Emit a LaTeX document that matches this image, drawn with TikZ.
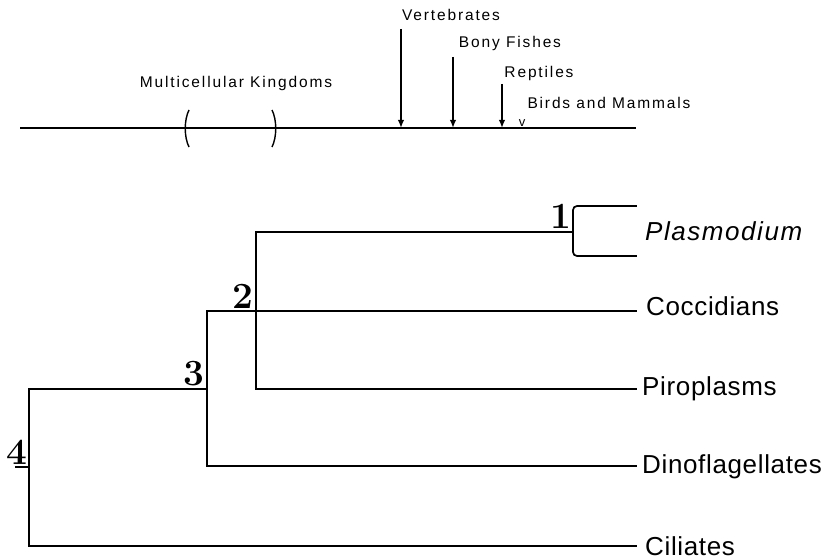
\documentclass[tikz,border=0pt]{standalone}
\usepackage{fontspec}
\usetikzlibrary{arrows.meta}
\newfontfamily\smallsans[LetterSpace=12]{Liberation Sans}
\newfontfamily\bigsans[LetterSpace=2.5]{Liberation Sans}
\newfontfamily\bigsansit[LetterSpace=6]{Liberation Sans Italic}
\begin{document}
\begin{tikzpicture}[x=1pt,y=-1pt,
  branch/.style={line width=1.7pt, line cap=rect},
  axis/.style={line width=1.8pt},
  pointer/.style={line width=1.6pt, -{Latex[length=8pt,width=6.5pt]}},
  toplabel/.style={inner sep=0pt, font=\smallsans\fontsize{15.5}{17}\selectfont},
  taxon/.style={anchor=base west, inner sep=0pt, font=\bigsans\fontsize{26}{30}\selectfont},
  clade/.style={inner sep=0pt, font=\bfseries\fontsize{37}{39}\selectfont}]
\useasboundingbox (0,0) rectangle (833,559);

% ---- time scale ----
\coordinate (axL) at (20,128);
\coordinate (axR) at (636,128);
\draw[axis] (axL) -- (axR);

% brackets marking the multicellular kingdoms
\draw[line width=1.4pt] (189,110) .. controls (184,120) and (184,137) .. (189,147);
\draw[line width=1.4pt] (272,110) .. controls (277,120) and (277,137) .. (272,147);
\node[toplabel] (multi) at (236,83) {Multicellular Kingdoms};

% arrows onto the time scale
\node[toplabel] (vert) at (451,15) {Vertebrates};
\node[toplabel] (bony) at (510,43) {Bony Fishes};
\node[toplabel] (rept) at (539,73) {Reptiles};
\node[toplabel] (birds) at (609,103) {Birds and Mammals};
\coordinate (vTop) at (401,29);  \coordinate (vBot) at (401,128);
\coordinate (bTop) at (453,57);  \coordinate (bBot) at (453,128);
\coordinate (rTop) at (502,84);  \coordinate (rBot) at (502,128);
\draw[pointer] (vTop) -- (vBot);
\draw[pointer] (bTop) -- (bBot);
\draw[pointer] (rTop) -- (rBot);
\node[inner sep=0pt, font=\smallsans\fontsize{13}{13}\selectfont, anchor=base] (bm) at (522,127) {v};

% ---- tree ----
\coordinate (n1) at (573,232);
\coordinate (n2) at (256,232);
\coordinate (n2b) at (256,389);
\coordinate (n3t) at (207,311);
\coordinate (n3m) at (207,389);
\coordinate (n3b) at (207,466);
\coordinate (n4t) at (29,389);
\coordinate (n4b) at (29,546);
\coordinate (tPl1) at (636,206);
\coordinate (tPl2) at (636,256);
\coordinate (tCo) at (636,311);
\coordinate (tPi) at (636,389);
\coordinate (tDi) at (636,466);
\coordinate (tCi) at (636,546);

\draw[branch, rounded corners=4pt] (tPl1) -| (n1) |- (tPl2);
\draw[branch] (n2) -- (n1);
\draw[branch] (n2) |- (tPi);
\draw[branch] (tCo) -| (n3t) |- (tDi);
\draw[branch] (n4t) -- (n3m);
\draw[branch] (n4t) |- (tCi);
\coordinate (tick) at (15,467);
\draw[line width=1.2pt] (tick) -- (29,467);

\node[taxon, font=\bigsansit\fontsize{26}{30}\selectfont] (plas) at (645,240) {Plasmodium};
\node[taxon] (cocc) at (646,315) {Coccidians};
\node[taxon] (piro) at (642,395) {Piroplasms};
\node[taxon] (dino) at (642,473) {Dinoflagellates};
\node[taxon] (cili) at (645,555) {Ciliates};

\node[clade] (c1) at (561,216) {1};
\node[clade] (c2) at (243,296) {2};
\node[clade] (c3) at (194,374) {3};
\node[clade] (c4) at (17,452) {4};
\end{tikzpicture}
\end{document}
